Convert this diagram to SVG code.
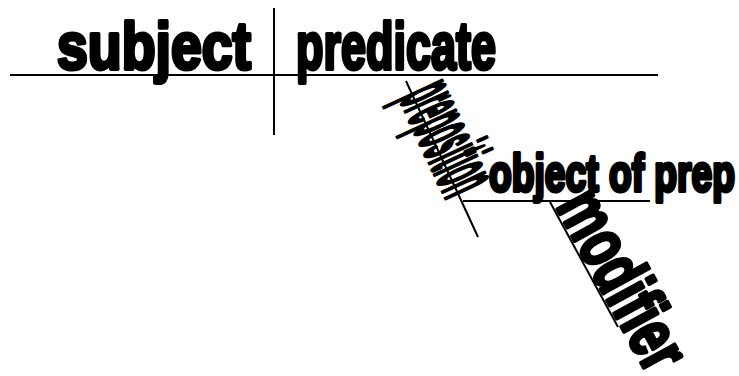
<svg xmlns="http://www.w3.org/2000/svg" width="739" height="376" viewBox="0 0 739 376">
<style>
.ln{stroke:#000;stroke-width:2;fill:none}
.t{font-family:"Liberation Sans",Arial,sans-serif;font-weight:bold;fill:#000;stroke:#000;stroke-width:4;stroke-linejoin:round}
</style>
<rect width="739" height="376" fill="#fff"/>
<g id="connectors">
<line class="ln" x1="10" y1="75" x2="658" y2="75"/>
<line class="ln" x1="274" y1="8" x2="274" y2="135"/>
<line class="ln" x1="406" y1="81" x2="478" y2="237"/>
<line class="ln" x1="463" y1="201" x2="650" y2="201"/>
<line class="ln" x1="550" y1="202" x2="618" y2="327"/>
</g>
<g id="subject">
<text class="t" x="57" y="69" font-size="67" textLength="194" lengthAdjust="spacingAndGlyphs">subject</text>
</g>
<g id="predicate">
<text class="t" x="296" y="69" font-size="67" textLength="200" lengthAdjust="spacingAndGlyphs">predicate</text>
</g>
<g id="preposition">
<text class="t" transform="translate(399.2,97.3) rotate(65.2)" x="0" y="0" font-size="86" textLength="114" lengthAdjust="spacingAndGlyphs">preposition</text>
</g>
<g id="object">
<text class="t" x="489" y="191" font-size="52" textLength="246" lengthAdjust="spacingAndGlyphs">object of prep</text>
</g>
<g id="modifier">
<text class="t" transform="translate(555.5,205.8) rotate(61.4)" x="0" y="0" font-size="72" textLength="194" lengthAdjust="spacingAndGlyphs">modifier</text>
</g>
</svg>
